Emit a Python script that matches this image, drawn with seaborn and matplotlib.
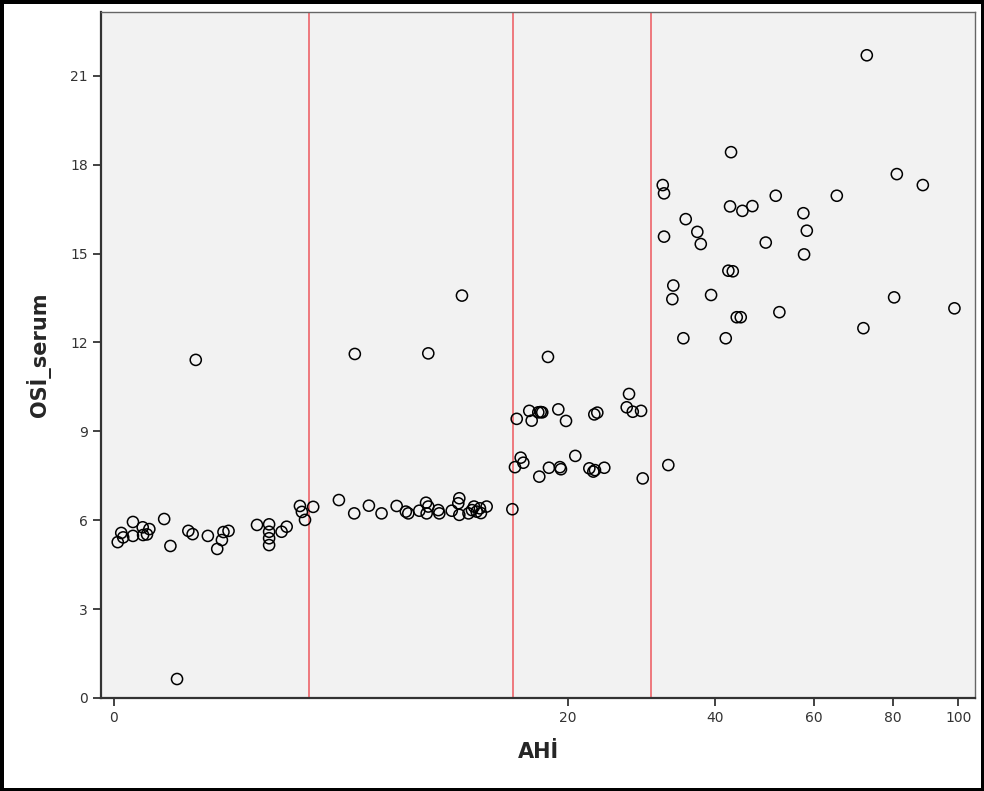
import numpy as np
import pandas as pd
import matplotlib
matplotlib.use("Agg")
import matplotlib.pyplot as plt
import seaborn as sns

sns.set_style("ticks")
plt.rcParams['font.family'] = ['DejaVu Sans']

# AHI values, grouped by severity band
ahi_normal = [0.10, 0.19, 0.24, 0.49, 0.49, 0.74, 0.75, 0.91, 0.85, 1.29,
              1.45, 1.62, 2.10, 1.91, 2.02, 2.41, 2.65, 2.77, 2.81, 2.94,
              3.67, 3.98, 3.98, 3.98, 3.98, 4.30, 4.43, 4.77, 4.82, 4.90]
osi_normal = [5.26, 5.57, 5.42, 5.94, 5.47, 5.76, 5.50, 5.70, 5.52, 6.04,
              5.13, 0.64, 11.41, 5.64, 5.53, 5.47, 5.03, 5.33, 5.60, 5.64,
              5.84, 5.86, 5.61, 5.39, 5.16, 5.61, 5.78, 6.48, 6.28, 6.01]

ahi_mild = [5.21, 6.47, 7.22, 7.94, 8.56, 9.30, 9.75, 9.87, 10.41, 10.74,
            10.85, 10.77, 11.34, 11.39, 12.00, 12.37, 12.32, 12.37, 12.82, 12.99,
            13.09, 13.22, 13.38, 13.43, 13.71, 14.97, 7.25, 10.85, 12.50]
osi_mild = [6.45, 6.68, 6.23, 6.49, 6.23, 6.48, 6.29, 6.23, 6.32, 6.59,
            6.46, 6.23, 6.34, 6.23, 6.32, 6.74, 6.57, 6.18, 6.23, 6.34,
            6.46, 6.29, 6.40, 6.24, 6.46, 6.37, 11.61, 11.63, 13.58]

ahi_moderate = [15.34, 16.48, 16.70, 17.30, 17.52, 17.66, 18.18, 19.12, 19.82, 23.17,
                23.53, 27.35, 27.07, 27.80, 28.80, 15.18, 15.70, 15.94, 17.39, 18.27,
                19.27, 19.36, 20.88, 22.57, 23.05, 23.25, 24.37, 29.00]
osi_moderate = [9.42, 9.69, 9.36, 9.64, 9.65, 9.64, 11.51, 9.74, 9.35, 9.57,
                9.63, 10.26, 9.81, 9.66, 9.69, 7.79, 8.11, 7.94, 7.47, 7.77,
                7.79, 7.72, 8.17, 7.75, 7.64, 7.69, 7.77, 7.41]

ahi_severe = [73.34, 43.23, 31.83, 32.03, 81.14, 89.14, 52.26, 65.75, 43.03, 45.52,
              47.54, 57.84, 35.42, 37.23, 37.77, 32.03, 58.53, 50.24, 57.98, 42.69,
              43.58, 33.48, 33.33, 39.38, 80.31, 98.86, 44.38, 45.19, 52.99, 72.48,
              35.05, 42.16, 32.70]
osi_severe = [21.69, 18.42, 17.31, 17.03, 17.68, 17.31, 16.95, 16.95, 16.59, 16.44,
              16.60, 16.36, 16.16, 15.73, 15.32, 15.57, 15.77, 15.37, 14.97, 14.42,
              14.40, 13.92, 13.46, 13.60, 13.52, 13.15, 12.85, 12.85, 13.02, 12.48,
              12.14, 12.14, 7.86]

cutoffs = [5, 15, 30]
x_ticks = [0, 20, 40, 60, 80, 100]
y_ticks = [0, 3, 6, 9, 12, 15, 18, 21]

df = pd.DataFrame({
    'AHİ': ahi_normal + ahi_mild + ahi_moderate + ahi_severe,
    'OSİ_serum': osi_normal + osi_mild + osi_moderate + osi_severe,
})

# stretched axis used in the original chart (monotone, piecewise)
scale_src = np.array([-1, 0, 5, 15, 20, 30, 40, 60, 80, 100, 120])
scale_dst = np.array([-39, 0, 195, 399, 454, 537, 601, 700, 779, 844, 909], dtype=float)


def fwd(x):
    return np.interp(x, scale_src, scale_dst)


def inv(y):
    return np.interp(y, scale_dst, scale_src)


fig = plt.figure(figsize=(9.84, 7.91), dpi=100, facecolor='white',
                 edgecolor='black', linewidth=5)
ax = fig.add_axes([0.1026, 0.1176, 0.8883, 0.8672])
ax.set_facecolor('#F2F2F2')
ax.set_xscale('function', functions=(fwd, inv))

sns.scatterplot(data=df, x='AHİ', y='OSİ_serum', ax=ax, s=64,
                facecolor='none', edgecolor='black', linewidth=1.1, zorder=3)

for c in cutoffs:
    ax.axvline(c, color='#EE6F74', lw=1.3, zorder=2)

ax.set_xlim(-0.33, 105.2)
ax.set_ylim(0, 23.15)
ax.set_xticks(x_ticks)
ax.set_yticks(y_ticks)
ax.tick_params(axis='both', labelsize=10, colors='#222222', length=6, width=1.2)
ax.tick_params(axis='both', labelcolor='#333333')
for side in ['left', 'bottom']:
    ax.spines[side].set_color('#333333')
    ax.spines[side].set_linewidth(1.6)
for side in ['top', 'right']:
    ax.spines[side].set_color('#666666')
    ax.spines[side].set_linewidth(1.0)

ax.set_xlabel('AHİ', fontsize=15, fontweight='bold', labelpad=12)
ax.set_ylabel('OSİ_serum', fontsize=15, fontweight='bold', labelpad=14)

fig.savefig('out.png', dpi=100, facecolor=fig.get_facecolor(),
            edgecolor=fig.get_edgecolor())
